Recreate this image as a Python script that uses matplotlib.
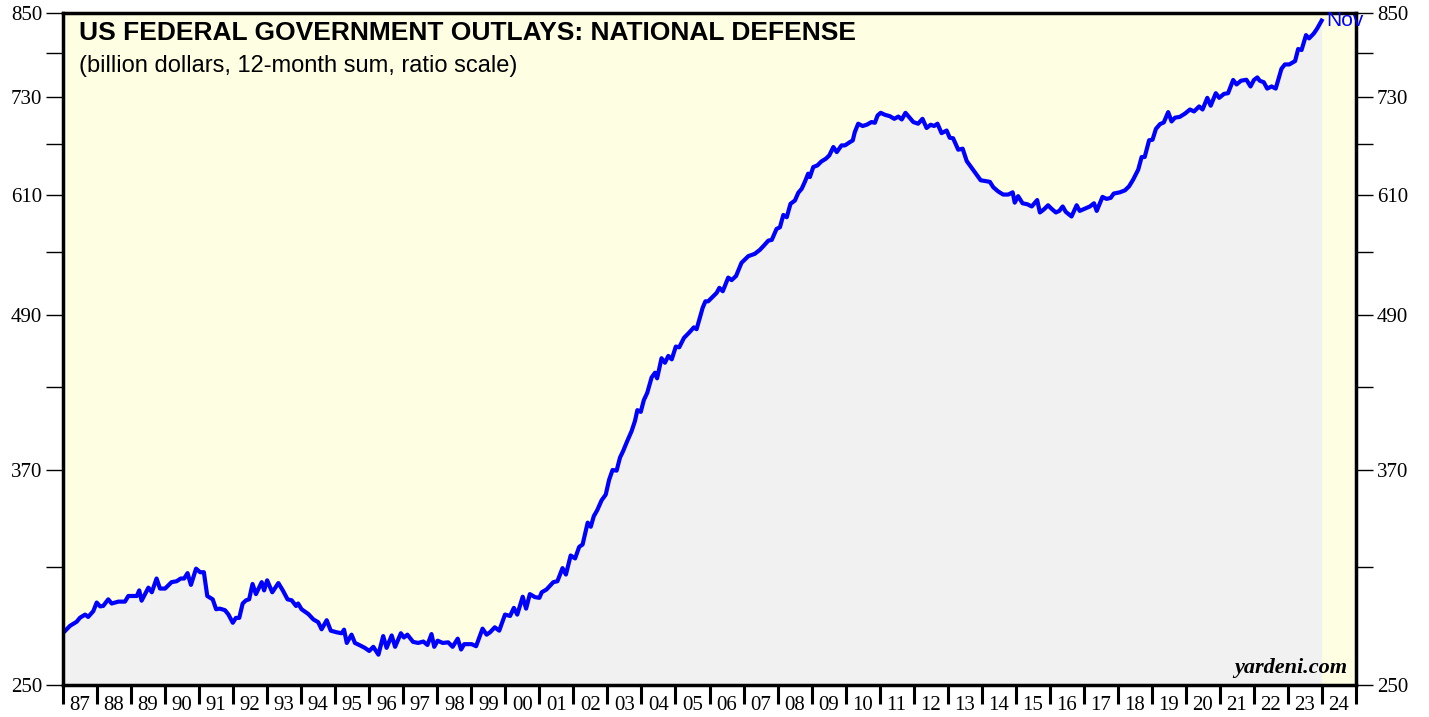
import matplotlib
matplotlib.use("Agg")
import matplotlib.pyplot as plt
from matplotlib.ticker import FixedLocator, NullFormatter
import numpy as np

# Dépenses de défense US, somme sur 12 mois (milliards $)
annees = [
    1987.01, 1987.21, 1987.40, 1987.50, 1987.65, 1987.74, 1987.89, 1987.99,
    1988.09, 1988.18, 1988.33, 1988.43, 1988.63, 1988.82, 1988.92,
    1989.17, 1989.24, 1989.31, 1989.51, 1989.61, 1989.75, 1989.85,
    1990.00, 1990.19, 1990.34, 1990.46, 1990.56, 1990.66, 1990.76, 1990.91,
    1991.03, 1991.14, 1991.24, 1991.40, 1991.50, 1991.61, 1991.76, 1991.86, 1991.99,
    1992.08, 1992.18, 1992.28, 1992.38, 1992.47, 1992.57, 1992.67, 1992.84, 1992.91,
    1993.00, 1993.15, 1993.33, 1993.46, 1993.60, 1993.72, 1993.85, 1993.91,
    1994.01, 1994.21, 1994.36, 1994.50, 1994.60, 1994.75, 1994.87,
    1995.04, 1995.19, 1995.26, 1995.34, 1995.48, 1995.58, 1995.73, 1995.87,
    1996.00, 1996.12, 1996.27, 1996.41, 1996.51, 1996.66, 1996.76, 1996.93,
    1997.02, 1997.12, 1997.29, 1997.44, 1997.59, 1997.71, 1997.83, 1997.91,
    1998.01, 1998.16, 1998.32, 1998.45, 1998.60, 1998.70, 1998.79,
    1999.01, 1999.14, 1999.33, 1999.45, 1999.55, 1999.69, 1999.82, 1999.99,
    2000.14, 2000.25, 2000.35, 2000.51, 2000.61, 2000.72, 2000.87,
    2001.00, 2001.07, 2001.21, 2001.41, 2001.53, 2001.68, 2001.78, 2001.92,
    2002.05, 2002.17, 2002.27, 2002.42, 2002.51, 2002.60, 2002.70, 2002.83, 2002.95,
    2003.05, 2003.15, 2003.27, 2003.37, 2003.46, 2003.58, 2003.71, 2003.81, 2003.88, 2003.98,
    2004.07, 2004.17, 2004.30, 2004.40, 2004.46, 2004.59, 2004.69, 2004.79, 2004.89,
    2005.01, 2005.11, 2005.25, 2005.40, 2005.54, 2005.62, 2005.80, 2005.88, 2005.96,
    2006.11, 2006.21, 2006.29, 2006.39, 2006.55, 2006.65, 2006.78, 2006.94,
    2007.14, 2007.33, 2007.48, 2007.60, 2007.73, 2007.83, 2007.97,
    2008.07, 2008.17, 2008.27, 2008.38, 2008.51, 2008.61, 2008.71, 2008.80, 2008.90, 2008.95,
    2009.05, 2009.17, 2009.29, 2009.42, 2009.52, 2009.64, 2009.74, 2009.88, 2009.98,
    2010.13, 2010.21, 2010.27, 2010.37, 2010.50, 2010.62, 2010.76, 2010.86, 2010.94,
    2011.03, 2011.16, 2011.30, 2011.43, 2011.55, 2011.65, 2011.76, 2011.89, 2011.99,
    2012.13, 2012.26, 2012.38, 2012.50, 2012.60, 2012.70, 2012.82, 2012.97,
    2013.06, 2013.16, 2013.31, 2013.44, 2013.56, 2013.70, 2013.85, 2013.97,
    2014.09, 2014.24, 2014.34, 2014.48, 2014.63, 2014.78, 2014.91, 2014.97,
    2015.07, 2015.20, 2015.34, 2015.47, 2015.63, 2015.71, 2015.83, 2015.95,
    2016.05, 2016.18, 2016.28, 2016.38, 2016.47, 2016.64, 2016.79, 2016.88,
    2017.03, 2017.18, 2017.30, 2017.38, 2017.55, 2017.67, 2017.79, 2017.88,
    2018.06, 2018.21, 2018.33, 2018.45, 2018.60, 2018.70, 2018.79, 2018.92,
    2019.02, 2019.12, 2019.24, 2019.35, 2019.48, 2019.58, 2019.68, 2019.82, 2019.97,
    2020.12, 2020.24, 2020.39, 2020.49, 2020.63, 2020.73, 2020.88, 2020.98,
    2021.12, 2021.24, 2021.39, 2021.49, 2021.62, 2021.78, 2021.90,
    2022.00, 2022.10, 2022.17, 2022.29, 2022.39, 2022.52, 2022.64, 2022.81, 2022.91,
    2023.04, 2023.21, 2023.30, 2023.40, 2023.53, 2023.62, 2023.76, 2023.86, 2023.99,
]
depenses = [
    275, 278.5, 280.5, 282.6, 284.2, 283, 286, 290.5,
    288.5, 288.7, 292.2, 290, 291, 291, 294,
    294, 297, 291.5, 298.5, 296, 303.5, 298,
    298, 301.5, 302, 303.5, 303.5, 306.5, 300, 309,
    307, 307, 294, 292.2, 287, 287.3, 286.5, 284.3, 280,
    282.5, 282.5, 290, 291.7, 292.2, 300.5, 295, 301.5, 297,
    302.5, 296, 301, 297, 292.2, 291.7, 288.7, 290,
    287, 284.5, 281.7, 280.3, 276.7, 281.3, 276,
    275.2, 274.7, 276.5, 269.9, 274, 269.9, 268.7, 267.5,
    266, 268, 264.2, 273.3, 267.5, 273.6, 268, 274.7,
    272.6, 274, 270.4, 269.9, 270.6, 268.9, 274.3, 268,
    271, 269.9, 270.2, 268, 272, 266.7, 269.3,
    269.3, 268.3, 277, 274, 275.2, 277.7, 276, 284.2,
    283.5, 287.7, 284.2, 293.6, 287.3, 295, 293.4,
    293, 296, 297.5, 301.5, 302, 309.3, 305.7, 316.5,
    314.8, 321.5, 322.9, 336, 333.5, 340, 343.7, 350, 353.6,
    363.3, 369.8, 369.4, 378.3, 382.7, 389.7, 396.9, 404.4, 412.4, 411.1,
    420, 425.6, 437.8, 441.5, 437, 453.3, 449.6, 455.2, 452.4,
    463, 462.4, 470.4, 474.9, 479.5, 477.9, 497, 502.8, 502.8,
    507.5, 510.6, 515.3, 512.1, 525, 522.6, 526.5, 539.3,
    545.9, 548.2, 552.2, 556.6, 561.6, 562.3, 573.6,
    575.4, 588.4, 586, 600.5, 604.1, 612.7, 617.2, 624.8, 634.4, 630.5,
    642.1, 644, 648.7, 651.9, 655.8, 665.9, 659.8, 667.9, 667.9,
    672, 674, 684.3, 694.8, 691.9, 693.5, 696.9, 696, 705.3,
    708.7, 706.1, 704.4, 701, 703.9, 700.2, 708.7, 701.9, 696.9,
    694.8, 701, 689.4, 693.5, 691.9, 694.8, 683, 686.2,
    677.3, 676.6, 662.7, 663.9, 649.1, 641.4, 633.3, 626.8,
    626, 625, 618.9, 614.3, 610.7, 610.7, 613.2, 601.8,
    608.9, 601.1, 600, 597.6, 604.6, 591.1, 594.5, 598.9,
    595.2, 591.1, 592.8, 597.6, 591.8, 586.8, 598.9, 592.8,
    595.2, 597.6, 601.1, 592.8, 608.1, 605.9, 607, 611.8,
    613.2, 615.4, 619.9, 627.5, 639.1, 653.9, 653.9, 674.2,
    674.8, 688.3, 694.3, 696.4, 709.6, 697.7, 702.5, 703.5, 707.6,
    713, 710.5, 717, 713, 728.3, 718, 734.5, 728.3,
    733.6, 734.5, 752.4, 746.3, 751.4, 752.7, 743.6,
    752.4, 755.9, 751.4, 749.3, 740.7, 743.6, 740.7, 768, 774,
    774, 778.8, 796, 794.6, 816.4, 811.6, 818.9, 826.4, 838.3,
]

y_ticks = [250, 370, 490, 610, 730, 850]
y_minor = [310, 430, 550, 670, 790]
ans = list(range(1987, 2026))
labels_ans = ["%02d" % (a % 100) for a in ans[:-1]]

fig = plt.figure(figsize=(14.29, 7.17), dpi=100)
ax = fig.add_axes([63 / 1429, 32 / 717, 1293 / 1429, 672 / 717])
ax.set_facecolor("#fefee2")

ax.fill_between(annees, depenses, 250, color="#f1f1f1", lw=0)
ax.plot(annees, depenses, color="#0000ff", lw=3.0, solid_joinstyle="round")

ax.set_yscale("log")
ax.set_ylim(250, 850)
ax.set_xlim(1987, 2025)

ax.yaxis.set_major_locator(FixedLocator(y_ticks))
ax.yaxis.set_minor_locator(FixedLocator(y_minor))
ax.set_yticklabels([str(v) for v in y_ticks])
ax.yaxis.set_minor_formatter(NullFormatter())
ax.tick_params(axis="y", which="both", direction="out", length=12, width=1,
               left=True, right=True, labelleft=True, labelright=True,
               labelsize=15, pad=3)
for lab in ax.get_yticklabels(which="both"):
    lab.set_family("Liberation Serif")

ax.set_xticks(ans)
ax.set_xticklabels([""] * len(ans))
ax.set_xticks([a + 0.5 for a in ans[:-1]], minor=True)
ax.set_xticklabels(labels_ans, minor=True, family="Liberation Serif", fontsize=15)
ax.tick_params(axis="x", which="major", direction="out", length=14, width=2.2)
ax.tick_params(axis="x", which="minor", length=0, pad=8)

for s in ax.spines.values():
    s.set_linewidth(2.5)
    s.set_color("black")

ax.text(0.012, 0.988, "US FEDERAL GOVERNMENT OUTLAYS: NATIONAL DEFENSE",
        transform=ax.transAxes, ha="left", va="top", fontsize=19,
        fontweight="bold", family="Liberation Sans")
ax.text(0.012, 0.937, "(billion dollars, 12-month sum, ratio scale)",
        transform=ax.transAxes, ha="left", va="top", fontsize=17,
        family="Liberation Sans")
ax.text(annees[-1] + 0.15, depenses[-1], "Nov", color="#0000ff", fontsize=15,
        family="Liberation Sans", ha="left", va="center")
ax.text(0.993, 0.01, "yardeni.com", transform=ax.transAxes, ha="right",
        va="bottom", fontsize=16, fontweight="bold", style="italic",
        family="Liberation Serif")

fig.savefig("out.png", dpi=100)
